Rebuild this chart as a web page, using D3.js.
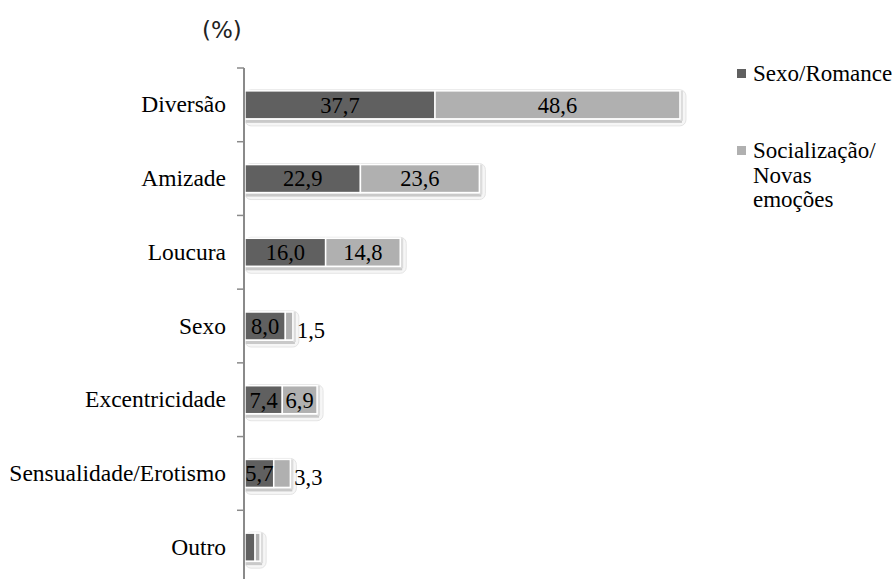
<!DOCTYPE html>
<html>
<head>
<meta charset="utf-8">
<script src="https://cdn.jsdelivr.net/npm/d3@7/dist/d3.min.js"></script>
<style>
  html, body { margin: 0; padding: 0; background: #fff; }
  svg { display: block; }
</style>
</head>
<body>
<svg id="chart" width="896" height="579"></svg>
<script>
// Categories, top to bottom
const categories = ["Diversão", "Amizade", "Loucura", "Sexo", "Excentricidade", "Sensualidade/Erotismo", "Outro"];
// Series values (%)
const sexoRomance   = [37.7, 22.9, 16.0, 8.0, 7.4, 5.7, 2.0];
const socializacao  = [48.6, 23.6, 14.8, 1.5, 6.9, 3.3, 1.0];
// Which categories carry value labels
const showLabels    = [true, true, true, true, true, true, false];
const seriesNames   = ["Sexo/Romance", "Socialização/\nNovas\nemoções"];
const seriesColors  = ["#606060", "#b0b0b0"];
const unitLabel     = "(%)";

const SERIF = '"Liberation Serif"';
const svg = d3.select("#chart");

const x = d3.scaleLinear().domain([0, 100]).range([245, 749]);
const y = d3.scaleBand().domain(categories).range([68, 584]).paddingInner(0.62).paddingOuter(0.31);

const rows = categories.map((c, i) => ({
  cat: c,
  vals: [sexoRomance[i], socializacao[i]],
  label: showLabels[i]
}));

// Bevel / shadow behind each stacked bar
const shade = svg.append("g");
rows.forEach(r => {
  const total = r.vals[0] + r.vals[1];
  const x0 = x(0), x1 = x(total);
  const y0 = y(r.cat), h = y.bandwidth();
  shade.append("rect")
    .attr("x", x0).attr("y", y0 - 1)
    .attr("width", x1 - x0 + 6).attr("height", h + 8)
    .attr("rx", 6)
    .attr("fill", "#f6f6f6").attr("stroke", "#e4e4e4").attr("stroke-width", 1);
  shade.append("rect")
    .attr("x", x0 + 1).attr("y", y0 + h + 1)
    .attr("width", x1 - x0 + 1).attr("height", 3)
    .attr("fill", "#c9c9c9");
  shade.append("rect")
    .attr("x", x1).attr("y", y0)
    .attr("width", 3).attr("height", h + 2)
    .attr("fill", "#dcdcdc");
});

// Stacked segments
const bars = svg.append("g");
rows.forEach(r => {
  let acc = 0;
  r.vals.forEach((v, k) => {
    bars.append("rect")
      .attr("x", x(acc))
      .attr("y", y(r.cat))
      .attr("width", x(acc + v) - x(acc))
      .attr("height", y.bandwidth())
      .attr("fill", seriesColors[k])
      .attr("stroke", "#fff")
      .attr("stroke-width", 1.5);
    acc += v;
  });
});

// Value labels: centred inside, or just past the bar end when the segment is narrow
const labels = svg.append("g");
rows.forEach(r => {
  if (!r.label) return;
  let acc = 0;
  r.vals.forEach((v, k) => {
    const txt = d3.format(".1f")(v).replace(".", ",");
    const narrow = k === 1 && v < 4;
    labels.append("text")
      .attr("x", narrow ? x(acc + v) + 4 : (x(acc) + x(acc + v)) / 2)
      .attr("y", y(r.cat) + y.bandwidth() / 2 + (narrow ? 4 : 0))
      .attr("dy", "0.35em")
      .attr("text-anchor", narrow ? "start" : "middle")
      .style("font-family", SERIF).style("font-size", "22.5px")
      .attr("fill", "#000")
      .text(txt);
    acc += v;
  });
});

// Category axis
const axis = svg.append("g").attr("transform", `translate(${x(0) - 1},0)`)
  .call(d3.axisLeft(y).tickSize(0).tickPadding(18));
axis.select(".domain").attr("stroke", "#8a8a8a").attr("stroke-width", 2)
  .attr("d", `M0,68V584`);
axis.selectAll("text")
  .style("font-family", SERIF).style("font-size", "23.5px").attr("fill", "#000");

// Tick marks on band boundaries
const step = y.step();
const edges = d3.range(categories.length + 1).map(i => 68 + i * step);
svg.append("g").selectAll("line").data(edges).join("line")
  .attr("x1", x(0) - 8).attr("x2", x(0) - 1)
  .attr("y1", d => d).attr("y2", d => d)
  .attr("stroke", "#8a8a8a").attr("stroke-width", 1.5);

// Unit label
svg.append("text")
  .attr("x", 202).attr("y", 38)
  .style("font-family", '"DejaVu Sans"').style("font-size", "23px")
  .attr("fill", "#222")
  .text(unitLabel);

// Legend
const legend = svg.append("g");
const legendTop = [73, 150];
seriesNames.forEach((name, k) => {
  legend.append("rect")
    .attr("x", 737).attr("y", legendTop[k] - 4)
    .attr("width", 9).attr("height", 9)
    .attr("fill", seriesColors[k]);
  const t = legend.append("text").attr("x", 753).attr("y", legendTop[k])
    .style("font-family", SERIF).style("font-size", "23px").attr("fill", "#000");
  name.split("\n").forEach((line, j) => {
    t.append("tspan").attr("x", 753).attr("dy", j === 0 ? "0.35em" : 24.5).text(line);
  });
});
</script>
</body>
</html>
